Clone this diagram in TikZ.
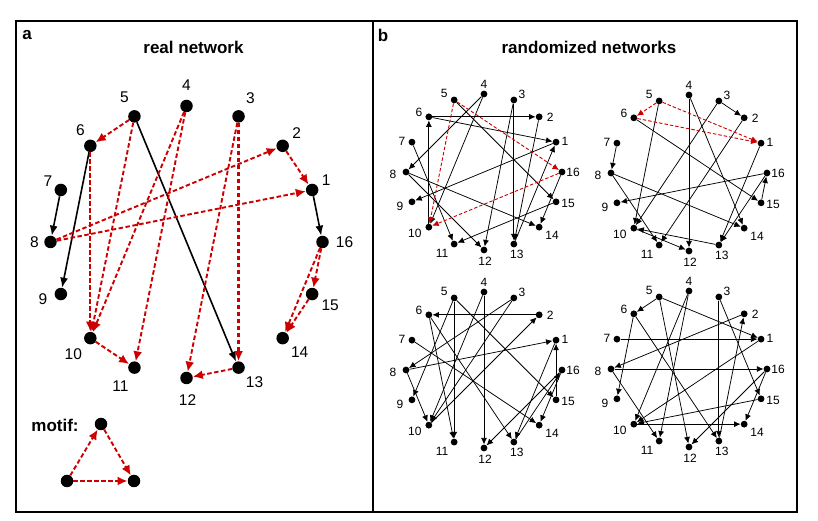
\documentclass[tikz,border=0pt]{standalone}
\usepackage{fontspec}
\setmainfont{Liberation Sans}
\usetikzlibrary{arrows.meta}
\definecolor{dred}{RGB}{204,0,0}
\newcommand\mknet[3]{%
  \begin{scope}[shift={(#2,#3)}]
  \foreach \i/\dx/\dy in {1/9/1,2/11/0,3/8/6,4/0/10,5/-10/7,6/-10/4,7/-10/1,8/-13/-2,9/-12/-5,10/-14/-6,11/-12/-9,12/1/-11,13/3/-10,14/13/-8,15/12/-2,16/11/0}{
    \node[smalldot] (#1\i) at ({22.5*\i}:78) {};
    \path ({22.5*\i}:78) ++(\dx,\dy) node[smalllab] (#1l\i) {\i};
  }
  \end{scope}}
\begin{document}
\begin{tikzpicture}[x=1pt,y=1pt,
  bigdot/.style={circle,fill=black,inner sep=0pt,minimum size=12.5pt},
  smalldot/.style={circle,fill=black,inner sep=0pt,minimum size=6.8pt},
  biglab/.style={font=\fontsize{15.5}{18}\selectfont,inner sep=0pt},
  smalllab/.style={font=\fontsize{12}{14}\selectfont,inner sep=0pt},
  bigblk/.style={line width=1.6pt,-{Latex[length=10pt,width=8pt]}},
  bigred/.style={dred,line width=1.9pt,dash pattern=on 4.5pt off 2.5pt,-{Latex[length=10pt,width=9pt]}},
  smblk/.style={line width=0.75pt,-{Latex[length=6.5pt,width=6pt]}},
  smred/.style={dred,line width=0.9pt,dash pattern=on 3.5pt off 2pt,-{Latex[length=6.5pt,width=6pt]}},
  ttl/.style={font=\fontsize{17}{20}\selectfont\bfseries,inner sep=0pt},
]
\useasboundingbox (0,0) rectangle (818,521);
\draw[line width=2pt] (16,9) rectangle (797,500);
\draw[line width=2pt] (373,9) -- (373,500);

\node[ttl] (ta) at (27,486) {a};
\node[ttl] (tb) at (383,486) {b};
\node[ttl] (t1) at (193.5,474) {real network};
\node[ttl] (t2) at (589,474) {randomized networks};
\node[ttl] (tm) at (55,96) {motif:};

% real network
\begin{scope}[shift={(186.5,279)}]
\foreach \i/\dx/\dy in {1/14/10,2/14/13,3/12/18,4/0/21,5/-10/19,6/-10/16,7/-13/9,8/-16/0,9/-18/-5,10/-17/-16,11/-14/-19,12/1/-22,13/16/-15,14/17/-14,15/18/-11,16/22/0}{
  \node[bigdot] (a\i) at ({22.5*\i}:136) {};
  \path ({22.5*\i}:136) ++(\dx,\dy) node[biglab] (al\i) {\i};
}
\end{scope}
\foreach \s/\t in {7/8,6/9,5/13,1/16} \draw[bigblk] (a\s) -- (a\t);
\foreach \s/\t in {5/6,2/1,8/2,8/1,6/10,5/10,4/10,4/11,10/11,3/12,13/12,16/15,16/14,15/14} \draw[bigred] (a\s) -- (a\t);
\draw[bigred,line width=3pt] (a3) -- (a13);

% motif
\node[bigdot] (m1) at (101,97) {};
\node[bigdot] (m2) at (67,40) {};
\node[bigdot] (m3) at (134,40) {};
\draw[bigred] (m2) -- (m1);
\draw[bigred] (m1) -- (m3);
\draw[bigred] (m2) -- (m3);

% randomized networks
\mknet{p}{484}{349}
\mknet{q}{689}{348}
\mknet{r}{484}{151}
\mknet{s}{689}{152}

\foreach \s/\t in {6/2,6/1,10/6,4/8,4/10,5/15,3/13,3/12,2/13,7/11,8/14,8/12,1/9,15/11,16/14,13/1} \draw[smblk] (p\s) -- (p\t);
\foreach \s/\t in {5/16,5/10,16/10} \draw[smred] (p\s) -- (p\t);

\foreach \s/\t in {3/2,7/8,4/12,4/14,5/10,6/15,16/9,15/16,1/13,8/14,8/11,10/12,13/10,16/13,3/10,2/11} \draw[smblk] (q\s) -- (q\t);
\foreach \s/\t in {5/6,5/1,6/1} \draw[smred] (q\s) -- (q\t);

\foreach \s/\t in {2/6,8/1,4/12,3/8,5/9,10/2,16/12,15/1,5/15,13/16,16/14,1/13,6/13,7/14,8/10,3/10,4/10,5/11,6/11} \draw[smblk] (r\s) -- (r\t);

\foreach \s/\t in {5/6,5/1,5/12,7/1,8/16,2/8,3/13,3/15,6/9,6/13,10/14,15/10,1/10,16/12,16/14,13/2,4/11,4/10,8/11} \draw[smblk] (s\s) -- (s\t);
\end{tikzpicture}
\end{document}
